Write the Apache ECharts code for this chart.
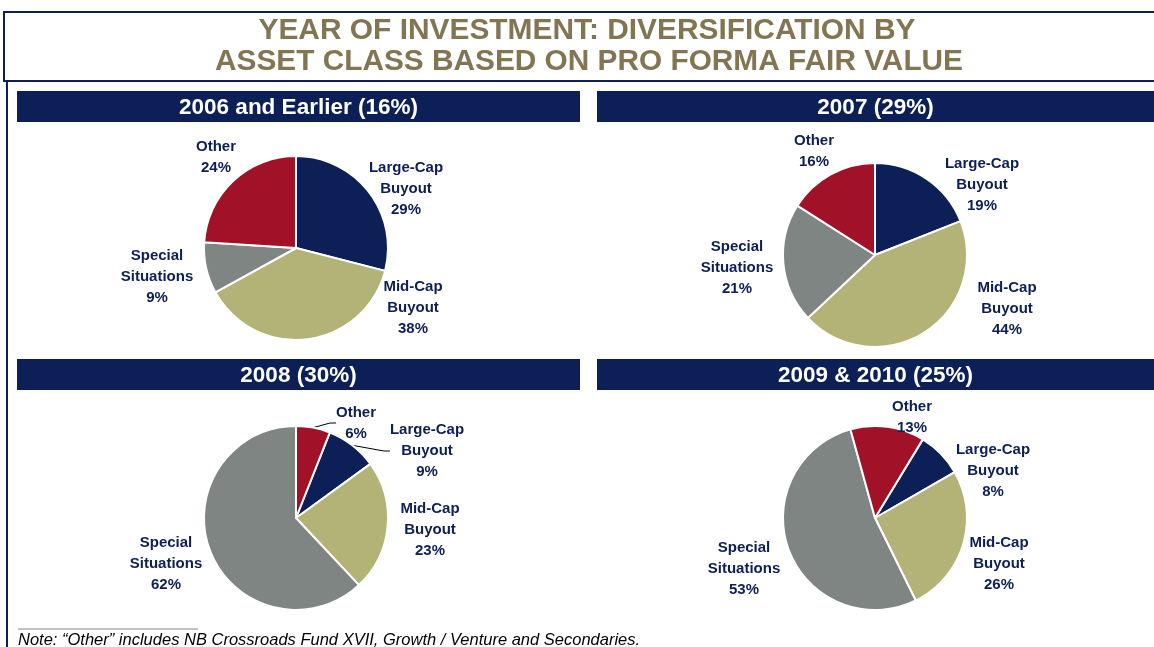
<!DOCTYPE html>
<html>
<head>
<meta charset="utf-8">
<script src="https://cdn.jsdelivr.net/npm/echarts@6/dist/echarts.min.js"></script>
<style>
  html, body { margin: 0; padding: 0; background: #fff; }
  #main { width: 1154px; height: 647px; }
</style>
</head>
<body>
<div id="main"></div>
<script>
// data
const assetClasses = ['Large-Cap Buyout', 'Mid-Cap Buyout', 'Special Situations', 'Other'];
const labelNames = ['Large-Cap\nBuyout', 'Mid-Cap\nBuyout', 'Special\nSituations', 'Other'];
const periods = ['2006 and Earlier (16%)', '2007 (29%)', '2008 (30%)', '2009 & 2010 (25%)'];
const share2006 = [29, 38, 9, 24];
const share2007 = [19, 44, 21, 16];
const share2008 = [9, 23, 62, 6];
const share2010 = [8, 26, 53, 13];
const titleLines = ['YEAR OF INVESTMENT: DIVERSIFICATION BY', 'ASSET CLASS BASED ON PRO FORMA FAIR VALUE'];

const colors = ['#0c1f56', '#b3b277', '#7f8583', '#a11128'];
const navy = '#0c1f56';

// panel layout: pie centres, header bars, label spots
const panels = [
  { data: share2006, center: [296, 248], start: 90, bar: [17, 91, 563, 31],
    labels: [[406, 189], [413, 308], [157, 277], [216, 157]] },
  { data: share2007, center: [875, 255], start: 90, bar: [597, 91, 557, 31],
    labels: [[982, 185], [1007, 309], [737, 268], [814, 151]] },
  { data: share2008, center: [296, 518], start: 68.4, bar: [17, 359, 563, 31],
    labels: [[427, 451], [430, 530], [166, 564], [356, 423]] },
  { data: share2010, center: [875, 518], start: 58.7, bar: [597, 359, 557, 31],
    labels: [[993, 471], [999, 564], [744, 569], [912, 417]] }
];

var myChart = echarts.init(document.getElementById('main'));

// the title font is a condensed bold face: squeeze Liberation Sans to the measured width
function squeeze(text, font, width) {
  var ctx = document.createElement('canvas').getContext('2d');
  ctx.font = font;
  return width / ctx.measureText(text).width;
}
const titleFont = 'bold 29px "Liberation Sans"';

const graphics = [
  // title box lines
  { type: 'line', shape: { x1: 3, y1: 12, x2: 1154, y2: 12 }, style: { stroke: navy, lineWidth: 2 } },
  { type: 'line', shape: { x1: 3, y1: 81, x2: 1154, y2: 81 }, style: { stroke: navy, lineWidth: 2 } },
  { type: 'line', shape: { x1: 4, y1: 12, x2: 4, y2: 81 }, style: { stroke: navy, lineWidth: 2 } },
  { type: 'line', shape: { x1: 7, y1: 81, x2: 7, y2: 647 }, style: { stroke: navy, lineWidth: 2 } },
  // title
  { type: 'text', x: 587, y: 31, scaleX: squeeze(titleLines[0], titleFont, 657),
    style: { text: titleLines[0], font: titleFont, fill: '#847552', align: 'center', verticalAlign: 'middle' } },
  { type: 'text', x: 589, y: 62, scaleX: squeeze(titleLines[1], titleFont, 748),
    style: { text: titleLines[1], font: titleFont, fill: '#847552', align: 'center', verticalAlign: 'middle' } },
  // note
  { type: 'line', shape: { x1: 18, y1: 629, x2: 198, y2: 629 }, style: { stroke: '#888', lineWidth: 1 } },
  { type: 'text', x: 18, y: 640,
    style: { text: 'Note: \u201cOther\u201d includes NB Crossroads Fund XVII, Growth / Venture and Secondaries.',
      font: 'italic 16.5px "Liberation Sans"', fill: '#000', verticalAlign: 'middle' } }
];

const series = [];

panels.forEach(function (p, i) {
  graphics.push({
    type: 'rect',
    shape: { x: p.bar[0], y: p.bar[1], width: p.bar[2], height: p.bar[3] },
    style: { fill: navy }
  });
  graphics.push({
    type: 'text',
    x: p.bar[0] + p.bar[2] / 2,
    y: p.bar[1] + p.bar[3] / 2 + 1,
    style: { text: periods[i], font: 'bold 22.5px "Liberation Sans"', fill: '#fff',
      align: 'center', verticalAlign: 'middle' }
  });
  series.push({
    name: periods[i],
    type: 'pie',
    radius: 92,
    center: p.center,
    startAngle: p.start,
    clockwise: true,
    silent: true,
    itemStyle: { borderColor: '#fff', borderWidth: 2 },
    label: {
      show: true,
      formatter: function (d) {
        return labelNames[d.dataIndex] + '\n' + d.value + '%';
      },
      color: navy,
      fontWeight: 'bold',
      fontSize: 15,
      lineHeight: 21,
      fontFamily: 'Liberation Sans',
      align: 'center'
    },
    labelLine: { show: false },
    labelLayout: function (params) {
      var pos = p.labels[params.dataIndex];
      return { x: pos[0], y: pos[1], align: 'center', verticalAlign: 'middle' };
    },
    data: p.data.map(function (v, j) {
      var item = { name: assetClasses[j], value: v, itemStyle: { color: colors[j] } };
      // the small 2008 slices get leader lines
      if (i === 2 && (j === 0 || j === 3)) {
        item.labelLine = { show: true, length: 6, length2: 6, lineStyle: { color: '#000', width: 1 } };
      }
      return item;
    })
  });
});

myChart.setOption({
  animation: false,
  graphic: graphics,
  series: series
});
</script>
</body>
</html>
